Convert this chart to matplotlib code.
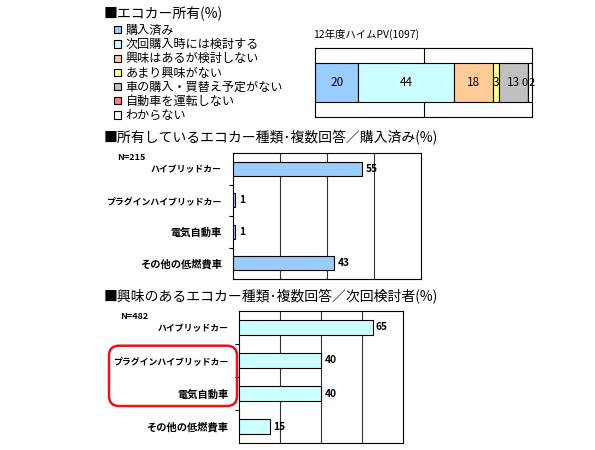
import numpy as np
import matplotlib
matplotlib.use("Agg")
from matplotlib import pyplot as plt
from matplotlib.patches import FancyBboxPatch

plt.rcParams['font.family'] = ['Noto Sans CJK JP', 'DejaVu Sans']

W, H = 595, 450

# --- data ---
own_labels = ["購入済み", "次回購入時には検討する", "興味はあるが検討しない", "あまり興味がない",
              "車の購入・買替え予定がない", "自動車を運転しない", "わからない"]
own_values = [20, 44, 18, 3, 13, 0, 2]
own_colors = ["#99CCFF", "#CCFFFF", "#FFCC99", "#FFFF99", "#C0C0C0", "#FF7C80", "#FFFFFF"]
own_title = "12年度ハイムPV(1097)"

car_types = ["ハイブリッドカー", "プラグインハイブリッドカー", "電気自動車", "その他の低燃費車"]
owned_pct = [55, 1, 1, 43]
interest_pct = [65, 40, 40, 15]

# katakana labels are set a bit smaller so their width matches the proportional original
label_sizes = [6.4, 6.4, 7.4, 7.4]


def px_axes(fig, x0, y0, x1, y1):
    return fig.add_axes([x0 / W, 1 - y1 / H, (x1 - x0) / W, (y1 - y0) / H])


fig = plt.figure(figsize=(W / 100, H / 100), dpi=100)
fig.patch.set_facecolor("white")

# --- stacked bar (top) ---
ax0 = px_axes(fig, 315, 48, 532, 117)
left = 0
handles = []
nudge = {5: -1.6, 6: 0.8}  # the "0" and "2" squeeze together at the right end
for i, (lab, v, c) in enumerate(zip(own_labels, own_values, own_colors)):
    b = ax0.barh(0.5, v, left=left, height=0.565, color=c, edgecolor="black", linewidth=0.8, label=lab)
    handles.append(b)
    fs = 8 if i in nudge else 8.5
    ax0.text(left + v / 2 + nudge.get(i, 0), 0.5, str(v), ha="center", va="center", fontsize=fs)
    left += v
ax0.set_xlim(0, 100)
ax0.set_ylim(0, 1)
ax0.axvline(50, color="black", lw=0.8, zorder=0)
ax0.set_xticks([])
ax0.set_yticks([])
for sp in ax0.spines.values():
    sp.set_linewidth(0.8)
ax0.text(-0.01, 1.12, own_title, transform=ax0.transAxes, fontsize=7.5, ha="left", va="bottom")

fig.legend(handles=handles, labels=own_labels, loc="upper left", bbox_to_anchor=(114 / W, 1 - 24 / H),
           frameon=False, fontsize=8.7, handlelength=0.55, handleheight=0.55, handletextpad=0.4,
           labelspacing=0.1, borderpad=0, borderaxespad=0)


def hbar_chart(ax, values, color, n_text, n_xy):
    y = np.arange(len(car_types))
    ax.barh(y, values, height=0.45, color=color, edgecolor="black", linewidth=0.8, zorder=3)
    for yi, v in zip(y, values):
        ax.text(v + 1.6, yi, str(v), va="center", ha="left", fontsize=7.3, fontweight="bold")
    ax.set_xlim(0, 80)
    ax.set_ylim(len(car_types) - 0.5, -0.5)
    ax.set_xticks([20, 40, 60])
    ax.xaxis.grid(True, color="#333333", lw=0.8)
    ax.tick_params(axis="x", length=0, labelbottom=False)
    ax.set_yticks(y)
    ax.set_yticklabels(car_types, fontweight="bold")
    for t, fs in zip(ax.get_yticklabels(), label_sizes):
        t.set_fontsize(fs)
    ax.tick_params(axis="y", length=0, pad=8)
    ax.set_yticks(y[:-1] + 0.5, minor=True)
    ax.tick_params(axis="y", which="minor", length=3, width=0.8, direction="out")
    for sp in ax.spines.values():
        sp.set_linewidth(0.8)
    fig.text(n_xy[0] / W, 1 - n_xy[1] / H, n_text, fontsize=6.5, fontweight="bold", va="center")


ax1 = px_axes(fig, 232.7, 153, 420.7, 279)
hbar_chart(ax1, owned_pct, "#99CCFF", "N=215", (117, 157.3))

ax2 = px_axes(fig, 239.3, 310.7, 403.3, 443.3)
hbar_chart(ax2, interest_pct, "#CCFFFF", "N=482", (120, 316.7))

# --- overlay for titles and the red box ---
ov = fig.add_axes([0, 0, 1, 1], zorder=10)
ov.set_xlim(0, W)
ov.set_ylim(H, 0)
ov.axis("off")
ov.patch.set_alpha(0)

ov.text(104, 14, "■エコカー所有(%)", fontsize=10, va="center")
ov.text(104, 138, "■所有しているエコカー種類･複数回答／購入済み(%)", fontsize=10, va="center")
ov.text(104, 297, "■興味のあるエコカー種類･複数回答／次回検討者(%)", fontsize=10, va="center")

ov.add_patch(FancyBboxPatch((113, 349.7), 120, 52.3, boxstyle="round,pad=4,rounding_size=10",
                            fill=False, edgecolor="#E8141B", lw=1.8))

fig.savefig("out.png", dpi=100)
